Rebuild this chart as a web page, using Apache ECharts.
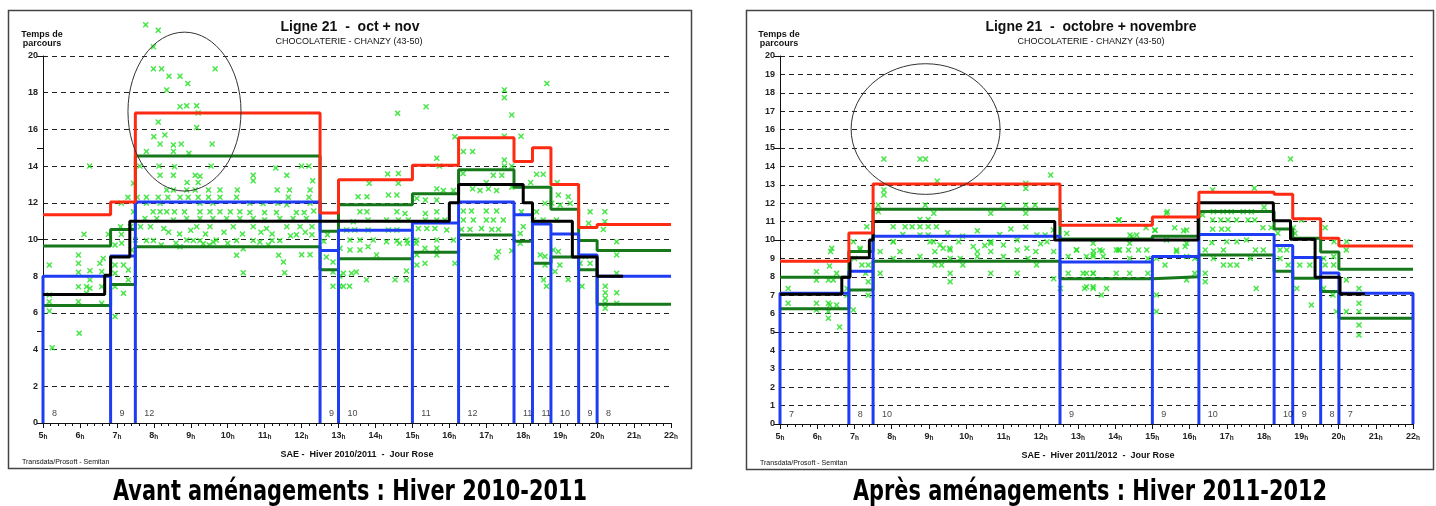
<!DOCTYPE html>
<html>
<head>
<meta charset="utf-8">
<script src="https://cdn.jsdelivr.net/npm/echarts@6/dist/echarts.min.js"></script>
<style>
  html, body { margin: 0; padding: 0; background: #fff; }
  #main { width: 1436px; height: 506px; }
</style>
</head>
<body>
<div id="main"></div>
<script>
// ---- Hiver 2010-2011 (gauche) ----
var leftBounds = [5, 6.83, 7.5, 12.5, 13, 15, 16.25, 17.75, 18.25, 18.75, 19.5, 20, 22];
var leftRed = [11.35, 12.05, 16.9, 11.45, 13.25, 14.05, 15.55, 14.25, 15.0, 13.0, 10.65, 10.82];
var leftGreenHi = [9.65, 10.55, 14.55, 10.45, 11.9, 12.5, 13.8, 12.85, 12.85, 11.65, 9.95, 9.4];
var leftGreenLo = [6.4, 7.55, 9.6, 8.35, 8.95, 9.3, 10.25, 9.9, 8.7, 9.05, 8.35, 6.47];
var leftBlue = [8.0, 9.1, 12.05, 9.4, 10.5, 10.9, 12.05, 11.35, 10.85, 10.3, 9.15, 8.0];
var leftFreq = ["8", "9", "12", "9", "10", "11", "12", "11", "11", "10", "9", "8"];
var leftBlackX = [5, 6.67, 6.83, 7.35, 16.0, 16.25, 18.0, 18.25, 19.33, 20.0, 20.7];
var leftBlackY = [7.0, 8.05, 9.05, 11.0, 12.0, 13.0, 12.0, 11.0, 9.05, 8.0];
var leftEllipse = [8.83, 16.97, 1.53, 4.33];
var leftPoints = [
  [7.78,21.7],[8.12,21.4],[7.99,20.5],[7.99,19.3],[8.21,19.3],[8.41,18.9],[8.71,18.9],[8.92,18.5],[8.35,18.15],[9.66,19.3],
  [8.71,17.24],[8.89,17.29],[9.16,17.29],[9.2,16.9],[8.12,16.4],[9.16,16.1],[8.0,15.6],[8.3,15.7],[8.17,15.2],[8.53,15.15],
  [8.74,15.2],[9.58,15.2],[7.8,14.8],[8.53,14.8],[8.95,14.7],[6.26,14.0],[7.62,14.0],[8.14,14.0],[8.56,13.97],[9.55,14.0],
  [8.17,13.5],[8.53,13.5],[9.12,13.5],[9.25,13.45],[10.69,13.5],[10.69,13.2],[11.3,13.9],[11.6,13.5],[12.0,14.0],[12.2,14.0],
  [12.3,13.2],[7.45,13.06],[8.9,13.1],[9.2,13.1],[8.35,12.7],[8.53,12.7],[8.89,12.7],[9.12,12.7],[9.48,12.7],[9.79,12.7],
  [10.26,12.7],[11.34,12.7],[11.67,12.7],[12.23,12.7],[7.3,12.3],[7.55,12.3],[7.8,12.3],[8.12,12.3],[8.38,12.3],[8.71,12.3],
  [8.93,12.3],[9.2,12.3],[9.48,12.3],[9.79,12.3],[10.24,12.3],[11.64,12.3],[12.2,12.3],[7.12,11.98],[7.8,11.98],[8.17,11.98],
  [9.25,11.98],[9.6,11.98],[10.6,11.98],[10.96,11.96],[11.36,11.98],[11.6,11.9],[12.23,11.98],[7.45,11.51],[7.98,11.51],[8.17,11.51],
  [8.35,11.51],[8.56,11.51],[8.83,11.51],[9.25,11.51],[9.52,11.51],[9.79,11.51],[10.07,11.51],[10.33,11.51],[10.6,11.47],[11.0,11.47],
  [11.32,11.47],[11.86,11.47],[12.07,11.47],[12.33,11.55],[7.76,11.15],[8.08,11.15],[8.53,11.06],[8.89,11.15],[9.25,11.15],[9.6,11.15],
  [9.97,11.15],[10.33,11.15],[10.69,11.15],[11.0,11.06],[11.41,11.15],[11.77,11.15],[12.13,11.15],[7.1,10.7],[7.37,10.7],[7.64,10.7],
  [7.91,10.7],[8.27,10.6],[9.16,10.7],[9.52,10.7],[10.15,10.7],[10.69,10.7],[11.05,10.6],[11.6,10.7],[11.96,10.7],[12.28,10.7],
  [6.11,10.28],[6.77,10.28],[7.12,10.28],[7.5,9.97],[7.8,9.94],[8.89,9.97],[9.25,9.94],[9.69,9.97],[10.24,9.94],[10.69,9.94],
  [11.41,9.94],[11.86,10.26],[12.28,10.26],[12.7,10.26],[12.6,9.9],[8.4,10.4],[8.7,10.3],[9.0,10.5],[9.4,10.3],[9.9,10.4],
  [10.4,10.3],[10.9,10.4],[11.2,10.3],[11.7,10.2],[12.1,10.4],[8.2,9.7],[8.6,9.8],[9.5,9.7],[10.0,9.8],[11.1,9.7],
  [5.17,8.61],[5.17,6.98],[5.17,6.61],[5.17,6.1],[5.25,4.1],[5.96,9.15],[5.96,8.7],[5.96,8.21],[5.96,7.43],[5.96,6.61],
  [5.98,4.89],[6.18,7.43],[6.18,7.07],[6.27,8.3],[6.27,7.8],[6.27,7.34],[6.54,8.7],[6.59,8.25],[6.59,7.43],[6.59,6.52],
  [6.63,8.97],[6.95,8.61],[6.95,8.16],[6.95,7.43],[6.95,5.8],[7.18,8.61],[7.18,7.07],[7.31,8.34],[7.31,7.8],[6.95,9.7],
  [7.13,9.8],[7.4,9.43],[7.99,9.95],[8.71,9.6],[9.07,9.95],[9.34,9.77],[9.61,9.86],[10.24,9.14],[10.42,8.19],[10.42,9.5],
  [10.87,9.86],[11.2,9.95],[11.38,9.14],[11.51,8.77],[11.54,8.19],[12.0,9.17],[12.23,9.17],[12.67,9.04],[12.85,8.77],[12.85,8.23],
  [12.85,7.45],[13.03,7.45],[13.03,8.0],[13.3,7.45],[13.48,8.23],
  [18.64,18.5],[17.49,18.15],[17.49,17.73],[15.37,17.24],[14.6,16.88],[17.69,16.79],[16.15,15.6],[17.49,15.63],[17.94,15.63],[16.38,14.79],
  [16.63,14.79],[15.66,14.43],[15.73,14.0],[17.49,14.33],[17.49,14.0],[17.69,14.0],[14.33,13.57],[14.62,13.6],[13.83,13.06],[14.62,13.06],
  [16.37,13.6],[17.19,13.5],[17.42,13.5],[18.36,13.55],[18.54,13.55],[18.2,13.1],[18.92,13.1],[17.0,13.1],[15.66,12.76],[15.84,12.67],
  [16.11,12.67],[16.63,12.76],[16.83,12.67],[17.06,12.76],[17.28,12.67],[17.69,12.85],[13.53,12.33],[13.77,12.33],[14.35,12.42],[14.58,12.42],
  [15.12,12.24],[15.35,12.15],[15.66,12.15],[18.59,11.97],[18.95,12.42],[19.22,12.33],[19.27,11.97],[19.0,11.88],[18.77,11.97],[13.58,11.51],
  [13.77,11.51],[14.58,11.51],[14.8,11.42],[15.35,11.42],[15.66,11.51],[16.38,11.55],[16.6,11.55],[17.0,11.55],[17.28,11.55],[17.95,11.51],
  [18.36,11.51],[19.81,11.51],[20.21,11.51],[20.21,10.97],[20.17,10.55],[19.77,10.88],[18.27,11.06],[18.54,11.06],[18.9,11.06],[13.4,10.97],
  [13.8,11.06],[14.3,11.06],[14.62,11.06],[14.89,11.06],[15.35,11.06],[15.66,11.06],[15.88,11.06],[16.38,11.06],[16.65,11.06],[17.0,11.06],
  [17.19,11.06],[17.46,11.06],[18.0,10.7],[13.22,10.52],[13.44,10.52],[13.8,10.52],[14.35,10.52],[14.58,10.52],[15.16,10.6],[15.39,10.6],
  [15.61,10.6],[15.93,10.52],[16.33,10.55],[16.56,10.55],[16.87,10.6],[17.15,10.55],[17.33,10.55],[17.92,10.33],[13.31,9.97],[13.58,9.97],
  [13.94,9.97],[14.3,9.88],[14.58,9.93],[14.85,9.97],[15.12,9.97],[15.66,9.97],[16.11,9.97],
  [13.04,9.52],[13.31,9.43],[13.58,9.43],[13.8,9.61],[14.03,9.16],[13.13,8.16],[13.35,8.16],[13.76,7.8],[13.13,7.45],[14.65,9.79],
  [14.87,9.79],[15.1,9.79],[14.53,7.8],[14.84,7.8],[14.84,8.29],[15.12,9.16],[15.12,8.61],[15.34,8.7],[15.34,9.52],[15.66,9.16],
  [15.66,9.52],[16.15,8.7],[17.33,9.34],[17.28,9.03],[17.69,9.39],[17.92,9.79],[18.46,9.16],[18.59,9.07],[18.59,8.61],[18.55,7.8],
  [18.63,7.45],[18.81,9.43],[18.95,9.34],[18.99,8.61],[18.86,8.25],[19.22,7.82],[19.54,8.7],[19.68,9.07],[19.81,8.7],[19.59,7.45],
  [20.22,7.45],[20.22,7.1],[20.22,6.8],[20.22,6.52],[20.22,6.25],[20.53,7.1],[20.53,8.16],[20.53,9.16],[20.53,6.52],[20.53,9.88]
];

// ---- Hiver 2011-2012 (droite) ----
var rightBounds = [5, 6.85, 7.5, 12.52, 15, 16.25, 18.27, 18.77, 19.52, 20.01, 22];
var rightRed = [8.85, 10.38, 13.05, 10.8, 11.25, 12.6, 12.48, 11.15, 10.1, 9.67];
var rightGreenHi = [7.97, 9.37, 11.67, 10.05, 10.2, 11.55, 10.6, 10.1, 9.35, 8.41];
var rightGreenLo = [6.27, 7.28, 8.85, 7.9, 8.0, 9.18, 8.3, 7.92, 7.2, 5.75];
var rightBlue = [7.1, 8.3, 10.2, 8.8, 9.1, 10.3, 9.7, 9.05, 8.2, 7.1];
var rightFreq = ["7", "8", "10", "9", "9", "10", "10", "9", "8", "7"];
var rightBlackX = [5, 6.66, 6.88, 7.4, 7.5, 12.38, 16.23, 18.25, 18.71, 19.37, 20.04, 20.71];
var rightBlackY = [7.05, 7.97, 9.04, 10.0, 11.0, 10.0, 12.03, 11.05, 10.04, 7.97, 7.07];
var rightEllipse = [8.91, 16.03, 2.0, 3.55];
var rightPoints = [
  [7.79,14.4],[8.76,14.4],[8.91,14.4],[9.22,13.2],[12.27,13.53],[11.6,13.08],[11.6,12.8],[7.79,12.72],[7.79,12.45],[7.64,11.9],
  [7.64,11.54],[8.9,11.9],[9.13,11.45],[10.66,11.45],[11.0,11.9],[11.6,11.9],[11.6,11.45],[11.85,11.9],[11.6,10.7],[7.33,10.72],
  [8.04,10.72],[8.36,10.72],[8.55,10.72],[8.76,10.72],[8.98,10.72],[9.2,10.72],[8.76,11.12],[8.98,11.12],[8.76,10.27],[8.98,10.27],
  [8.04,9.91],[9.12,9.91],[9.38,9.55],[9.56,9.55],[10.19,9.64],[10.66,9.91],[11.0,9.73],[11.37,10.0],[11.63,9.55],[11.9,10.27],
  [12.12,10.27],[12.34,10.54],[6.97,9.91],[7.15,9.55],[6.39,9.55],[8.3,10.3],[9.5,10.4],[9.9,10.2],[10.3,10.5],[10.9,10.3],
  [11.2,10.6],[12.0,9.8],[9.8,9.9],[10.5,9.7],
  [5.22,7.37],[5.22,6.56],[6.36,9.37],[6.33,8.59],[5.98,8.28],[5.98,7.83],[6.3,7.83],[6.43,7.83],[6.52,8.19],[5.98,6.56],
  [5.98,6.2],[6.3,6.56],[6.3,6.11],[6.3,5.75],[6.34,6.47],[6.52,6.47],[6.6,5.27],[6.8,7.37],[6.8,7.0],[6.97,6.2],
  [7.0,9.0],[7.15,9.46],[7.2,8.64],[7.3,8.19],[7.37,8.64],[7.37,7.73],[7.37,7.0],[7.69,9.37],[7.69,8.19],[8.04,9.9],
  [8.22,9.37],[8.04,9.0],[8.76,9.1],[9.03,9.9],[9.16,9.37],[9.3,9.73],[9.16,8.64],[9.34,8.64],[9.57,9.46],[9.57,9.0],
  [9.57,8.19],[9.57,7.73],[9.84,9.0],[9.91,8.64],[10.3,9.37],[10.3,9.1],[10.66,9.82],[10.66,9.37],[10.66,8.19],[11.0,9.1],
  [11.37,9.46],[11.37,8.19],[11.66,9.0],[11.87,9.37],[11.89,8.64],[12.17,9.9],[12.35,9.37],[12.35,7.9],[12.53,7.37],[12.74,9.1],
  [12.74,8.19],[12.96,9.46],[13.23,9.1],[13.23,8.19],[13.23,7.46],[13.41,7.46],[13.41,8.19],[13.41,9.2],
  [18.71,14.4],[16.62,12.72],[17.74,12.81],[15.4,11.54],[14.11,11.09],[14.83,10.67],[15.07,10.53],[15.6,10.67],[15.84,10.5],[16.35,11.36],
  [16.64,11.54],[16.9,11.54],[17.12,11.54],[17.44,11.54],[17.66,11.54],[18.0,11.78],[16.62,11.09],[16.84,11.09],[17.03,11.09],[17.26,11.09],
  [17.57,11.09],[17.75,11.09],[16.62,10.59],[16.86,10.59],[17.03,10.59],[17.97,10.67],[18.19,10.67],[18.37,10.37],[18.79,10.67],[19.01,11.09],
  [18.83,10.37],[19.64,10.67],[19.88,9.91],[20.22,9.91],[14.45,10.18],[15.38,10.0],[16.6,9.85],[17.0,9.91],[17.27,9.91],[17.53,10.0],
  [12.7,10.36],[12.97,9.46],[13.42,9.4],[13.65,9.4],[14.09,9.46],[14.36,9.46],[14.63,9.46],[14.85,9.46],[14.09,11.09],[14.4,10.27],
  [14.58,10.27],[15.07,10.54],[15.38,11.45],[15.65,9.46],[15.92,10.54],[15.88,9.64],
  [13.41,9.82],[13.59,9.46],[13.41,9.1],[13.68,9.1],[14.03,9.46],[14.12,9.46],[14.39,9.82],[14.39,9.0],[14.88,9.0],[15.11,9.0],
  [13.14,8.19],[13.41,8.19],[14.03,8.19],[14.39,8.19],[14.88,8.19],[13.18,7.37],[13.41,7.37],[13.77,7.37],[13.63,7.01],[15.11,7.01],
  [15.11,6.11],[15.34,8.64],[15.65,9.37],[15.92,9.82],[15.92,9.1],[15.92,7.83],[16.14,9.0],[16.14,8.19],[16.42,9.46],[16.42,8.19],
  [16.42,7.73],[16.64,9.0],[16.91,9.46],[16.91,8.64],[17.09,8.64],[17.27,8.64],[17.63,9.0],[17.77,9.46],[17.79,7.37],[17.98,9.46],
  [18.43,9.46],[18.43,9.0],[18.61,9.46],[18.65,8.64],[18.96,8.64],[19.23,8.64],[18.88,7.37],[19.27,6.47],[19.6,9.0],[19.64,8.64],
  [19.87,9.1],[19.87,8.64],[19.6,7.37],[19.85,7.01],[19.94,6.11],[20.21,6.11],[20.21,7.83],[20.55,7.37],[20.55,6.56],[20.55,6.11],
  [20.55,5.38],[20.55,4.84],[20.21,9.46]
];

var BLUE = "#1f3cf5", RED = "#ff2a12", GREEN = "#17781b", DOT = "#22e022";
var FONT = "Liberation Sans, Arial, sans-serif";
var crossSymbol = "path://M0,1.5L1.5,0L5,3L8.5,0L10,1.5L7,5L10,8.5L8.5,10L5,7L1.5,10L0,8.5L3,5Z";

function stepData(bounds, levels) {
  var d = [];
  for (var i = 0; i < levels.length; i++) d.push([bounds[i], levels[i]]);
  d.push([bounds[levels.length], levels[levels.length - 1]]);
  return d;
}
function blueData(bounds, levels, closeEnd) {
  var d = [];
  for (var i = 0; i < levels.length; i++) {
    d.push([bounds[i], 0]);
    d.push([bounds[i], levels[i]]);
    d.push([bounds[i + 1], levels[i]]);
  }
  if (closeEnd) d.push([bounds[levels.length], 0]);
  return d;
}
function xAxisOf(idx) {
  return {
    type: "value", gridIndex: idx, min: 5, max: 22, interval: 1,
    axisLine: { lineStyle: { color: "#111", width: 1 } },
    axisTick: { length: 5, lineStyle: { color: "#111" } },
    minorTick: { show: true, splitNumber: 5, length: 3, lineStyle: { color: "#111" } },
    splitLine: { show: false },
    axisLabel: {
      color: "#222", fontFamily: FONT, fontSize: 9, fontWeight: "bold", margin: 8,
      formatter: function (v) { return v + "{h|h}"; },
      rich: { h: { fontSize: 6.5, fontFamily: FONT, fontWeight: "bold", color: "#222", padding: [3, 0, 0, 0] } }
    }
  };
}
function yAxisOf(idx, interval) {
  return {
    type: "value", gridIndex: idx, min: 0, max: 20, interval: interval,
    axisLine: { show: true, lineStyle: { color: "#111", width: 1 } },
    axisTick: { show: false },
    splitLine: { lineStyle: { color: "#222", type: [5, 4], width: 1 } },
    axisLabel: { color: "#222", fontFamily: FONT, fontSize: 9, fontWeight: "bold", margin: 5 }
  };
}
function yTickAxisOf(idx) {
  return {
    type: "value", gridIndex: idx, min: 0, max: 20, interval: 5, position: "left",
    axisLine: { show: false }, axisLabel: { show: false }, splitLine: { show: false },
    axisTick: { show: true, length: 6, lineStyle: { color: "#111" } }
  };
}
function panelSeries(g, bounds, red, gHi, gLo, blue, freq, bx, by, pts, ell, closeEnd) {
  var yi = g * 2;
  var line = function (data, color, z) {
    return { type: "line", xAxisIndex: g, yAxisIndex: yi, data: data, step: "end", symbol: "none",
      lineStyle: { color: color, width: 3 }, z: z, silent: true, animation: false };
  };
  return [
    { type: "scatter", xAxisIndex: g, yAxisIndex: yi, data: pts, symbol: crossSymbol, symbolSize: [6, 6],
      itemStyle: { color: DOT }, clip: false, z: 1, animation: false },
    line(stepData(bounds, gLo), GREEN, 2),
    line(stepData(bounds, gHi), GREEN, 2),
    { type: "line", xAxisIndex: g, yAxisIndex: yi, data: blueData(bounds, blue, closeEnd), symbol: "none",
      lineStyle: { color: BLUE, width: 3 }, z: 3, animation: false },
    line(stepData(bx, by), "#000", 4),
    line(stepData(bounds, red), RED, 5),
    { type: "scatter", xAxisIndex: g, yAxisIndex: yi, symbolSize: 0.1, itemStyle: { color: "#fff" },
      data: freq.map(function (f, i) { return [bounds[i], 0]; }), z: 6, animation: false,
      label: { show: true, position: [9, -14], color: "#111", fontFamily: FONT, fontSize: 9,
        textBorderWidth: 0, textBorderColor: "transparent",
        formatter: function (p) { return freq[p.dataIndex]; } } },
    { type: "custom", xAxisIndex: g, yAxisIndex: yi, data: [ell], clip: false, z: 6, animation: false,
      renderItem: function (params, api) {
        var c = api.coord([api.value(0), api.value(1)]);
        var s = api.size([api.value(2), api.value(3)]);
        return { type: "ellipse", shape: { cx: c[0], cy: c[1], rx: s[0], ry: s[1] },
          style: { fill: null, stroke: "#333", lineWidth: 1 } };
      } }
  ];
}
function txt(x, y, text, size, weight, align) {
  return { type: "text", x: x, y: y, silent: true,
    style: { text: text, fill: "#111", font: (weight || "normal") + " " + size + "px " + FONT,
      textAlign: align || "center", textVerticalAlign: "middle" } };
}
function caption(x, text) {
  return { type: "text", x: x, y: 492, scaleX: 0.8, silent: true,
    style: { text: text, fill: "#000",
      font: "bold 29px 'Liberation Sans Narrow', 'DejaVu Sans Condensed', sans-serif",
      textAlign: "center", textVerticalAlign: "middle" } };
}

var myChart = echarts.init(document.getElementById("main"));
var option = {
  backgroundColor: "#fff",
  animation: false,
  grid: [
    { left: 43, right: 765, top: 56, bottom: 83 },
    { left: 780, right: 23, top: 56, bottom: 82 }
  ],
  xAxis: [xAxisOf(0), xAxisOf(1)],
  yAxis: [yAxisOf(0, 2), yTickAxisOf(0), yAxisOf(1, 1), yTickAxisOf(1)],
  series: [].concat(
    panelSeries(0, leftBounds, leftRed, leftGreenHi, leftGreenLo, leftBlue, leftFreq, leftBlackX, leftBlackY, leftPoints, leftEllipse, false),
    panelSeries(1, rightBounds, rightRed, rightGreenHi, rightGreenLo, rightBlue, rightFreq, rightBlackX, rightBlackY, rightPoints, rightEllipse, true)
  ),
  graphic: [
    { type: "rect", shape: { x: 8.5, y: 10.5, width: 683, height: 458 }, style: { fill: null, stroke: "#444", lineWidth: 1.5 }, silent: true },
    { type: "rect", shape: { x: 746.5, y: 10.5, width: 687, height: 459 }, style: { fill: null, stroke: "#444", lineWidth: 1.5 }, silent: true },
    txt(350, 27, "Ligne 21  -  oct + nov", 14, "bold"),
    txt(349, 42, "CHOCOLATERIE - CHANZY (43-50)", 9),
    txt(42, 35, "Temps de", 9, "bold"),
    txt(42, 44, "parcours", 9, "bold"),
    txt(357, 455, "SAE -  Hiver 2010/2011  -  Jour Rose", 9, "bold"),
    txt(22, 462, "Transdata/Prosoft - Semitan", 7, "normal", "left"),
    txt(1091, 27, "Ligne 21  -  octobre + novembre", 14, "bold"),
    txt(1091, 42, "CHOCOLATERIE - CHANZY (43-50)", 9),
    txt(779, 35, "Temps de", 9, "bold"),
    txt(779, 44, "parcours", 9, "bold"),
    txt(1098, 456, "SAE -  Hiver 2011/2012  -  Jour Rose", 9, "bold"),
    txt(760, 463, "Transdata/Prosoft - Semitan", 7, "normal", "left"),
    caption(350, "Avant aménagements : Hiver 2010-2011"),
    caption(1090, "Après aménagements : Hiver 2011-2012")
  ]
};
option && myChart.setOption(option);
</script>
</body>
</html>
